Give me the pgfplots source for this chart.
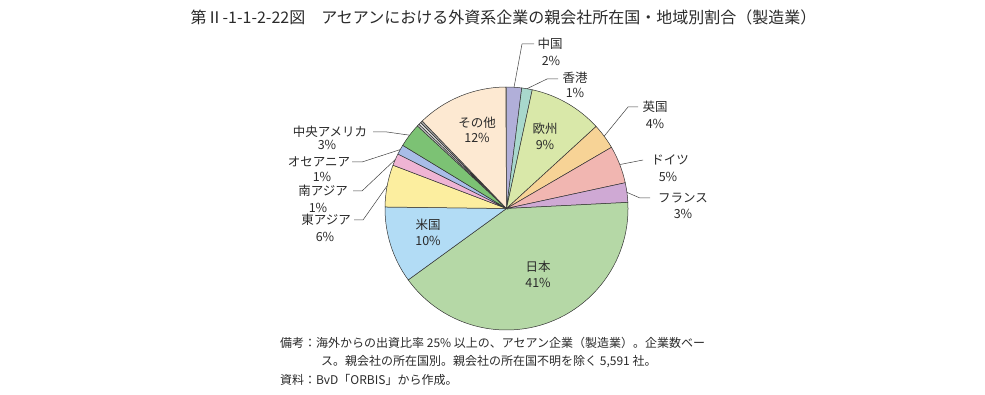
\documentclass[border=0pt]{standalone}
\usepackage{pgfplots}
\usepackage{pgfplotstable}
\pgfplotsset{compat=1.18}
\usepackage{fontspec}
\setmainfont{Noto Sans CJK JP}

\definecolor{cChina}{HTML}{B1AFD9}
\definecolor{cHK}{HTML}{A8D8CC}
\definecolor{cEU}{HTML}{D9E8A9}
\definecolor{cUK}{HTML}{F7D396}
\definecolor{cDE}{HTML}{F1B6B1}
\definecolor{cFR}{HTML}{CFA9D4}
\definecolor{cJP}{HTML}{B5D8A6}
\definecolor{cUS}{HTML}{B2DCF5}
\definecolor{cEA}{HTML}{FCEE9F}
\definecolor{cSA}{HTML}{EFB4D4}
\definecolor{cOC}{HTML}{A8BDE8}
\definecolor{cCA}{HTML}{7CC274}
\definecolor{cTa}{HTML}{BDBDBD}
\definecolor{cTb}{HTML}{E6E6E6}
\definecolor{cTc}{HTML}{A0A0A0}
\definecolor{cOT}{HTML}{FDE9D2}
\definecolor{txt}{HTML}{2A2A2A}

% share of parent companies by country/region (%), clockwise from top
\pgfplotstableread[col sep=comma]{
name,value,color
中国,2.0,cChina
香港,1.4,cHK
欧州,9.8,cEU
英国,3.4,cUK
ドイツ,5.0,cDE
フランス,2.6,cFR
日本,40.8,cJP
米国,10.2,cUS
東アジア,5.6,cEA
南アジア,1.6,cSA
オセアニア,1.3,cOC
中央アメリカ,3.2,cCA
tiny1,0.3,cTa
tiny2,0.3,cTb
tiny3,0.3,cTc
その他,12.1,cOT
}\piedata

\begin{document}
\begin{tikzpicture}
\begin{axis}[x=1pt, y=1pt, xmin=0, xmax=985, ymin=0, ymax=394,
  hide axis, clip=false, scale only axis]
\pgfplotstablegetrowsof{\piedata}
\pgfmathtruncatemacro{\Nrows}{\pgfplotsretval-1}
\def\cum{0}
\pgfplotsforeachungrouped \i in {0,...,\Nrows}{%
  \pgfplotstablegetelem{\i}{value}\of{\piedata}\let\sliceval\pgfplotsretval
  \pgfplotstablegetelem{\i}{color}\of{\piedata}\let\slicecol\pgfplotsretval
  \pgfmathsetmacro{\angA}{90-3.6*\cum}%
  \pgfmathsetmacro{\angB}{90-3.6*(\cum+\sliceval)}%
  \pgfmathsetmacro{\xs}{506.5+121.5*cos(\angA)}%
  \pgfmathsetmacro{\ys}{185.5+121.5*sin(\angA)}%
  \edef\temp{\noexpand\addplot[fill=\slicecol, draw=black!80, line width=0.5pt, mark=none] coordinates {(506.5,185.5) (\xs,\ys)} arc[start angle=\angA, end angle=\angB, radius=121.5pt] -- cycle;}%
  \temp
  \pgfmathsetmacro{\cum}{\cum+\sliceval}%
}
% leader lines
\addplot[black!75, line width=0.5pt, mark=none] coordinates {(514,306.5) (522,350) (534,350)};
\addplot[black!75, line width=0.5pt, mark=none] coordinates {(527,305.3) (547,315) (558,315)};
\addplot[black!75, line width=0.5pt, mark=none] coordinates {(604,257.6) (628,287) (638,287)};
\addplot[black!75, line width=0.5pt, mark=none] coordinates {(620,229.5) (643,234)};
\addplot[black!75, line width=0.5pt, mark=none] coordinates {(627,201.6) (640,196) (650,196)};
\addplot[black!75, line width=0.5pt, mark=none] coordinates {(373,262) (387,262) (409.7,258.8)};
\addplot[black!75, line width=0.5pt, mark=none] coordinates {(352,232) (362,232) (400.2,244.4)};
\addplot[black!75, line width=0.5pt, mark=none] coordinates {(353,203) (362,203) (395.3,234.5)};
\addplot[black!75, line width=0.5pt, mark=none] coordinates {(354,174) (363,174) (387.2,208.3)};
% labels
\begin{scope}[every node/.style={inner sep=0pt, text=txt, font=\fontsize{12.5}{14}\selectfont}]
\node at (axis cs:550,350) {中国};
\node at (axis cs:551,333) {2\%};
\node at (axis cs:575,316) {香港};
\node at (axis cs:575,301) {1\%};
\node at (axis cs:655,287) {英国};
\node at (axis cs:655,270) {4\%};
\node at (axis cs:670,234) {ドイツ};
\node at (axis cs:668,217) {5\%};
\node at (axis cs:683,196) {フランス};
\node at (axis cs:683,180) {3\%};
\node at (axis cs:330,262) {中央アメリカ};
\node at (axis cs:327,249) {3\%};
\node at (axis cs:319,232) {オセアニア};
\node at (axis cs:322,217) {1\%};
\node at (axis cs:323,203) {南アジア};
\node at (axis cs:318,186) {1\%};
\node at (axis cs:326,174) {東アジア};
\node at (axis cs:325,157) {6\%};
\node at (axis cs:477,271) {その他};
\node at (axis cs:477,256) {12\%};
\node at (axis cs:545,265) {欧州};
\node at (axis cs:545,249) {9\%};
\node at (axis cs:428,169) {米国};
\node at (axis cs:428,153) {10\%};
\node at (axis cs:538,127) {日本};
\node at (axis cs:538,111) {41\%};
\end{scope}
% title
\node[inner sep=0pt, text=txt, font=\fontsize{16}{18}\selectfont] at (axis cs:503.5,377) {第Ⅱ-1-1-2-22図　アセアンにおける外資系企業の親会社所在国・地域別割合（製造業）};
% notes
\begin{scope}[every node/.style={inner sep=0pt, anchor=west, text=txt, font=\fontsize{12}{14}\selectfont}]
\node at (axis cs:280,51) {備考：海外からの出資比率 25\% 以上の、アセアン企業（製造業）。企業数ベー};
\node at (axis cs:321,32) {ス。親会社の所在国別。親会社の所在国不明を除く 5,591 社。};
\node at (axis cs:280,14) {資料：BvD「ORBIS」から作成。};
\end{scope}
\end{axis}
\path (current axis.south west) rectangle (current axis.north east);
\end{tikzpicture}
\end{document}
